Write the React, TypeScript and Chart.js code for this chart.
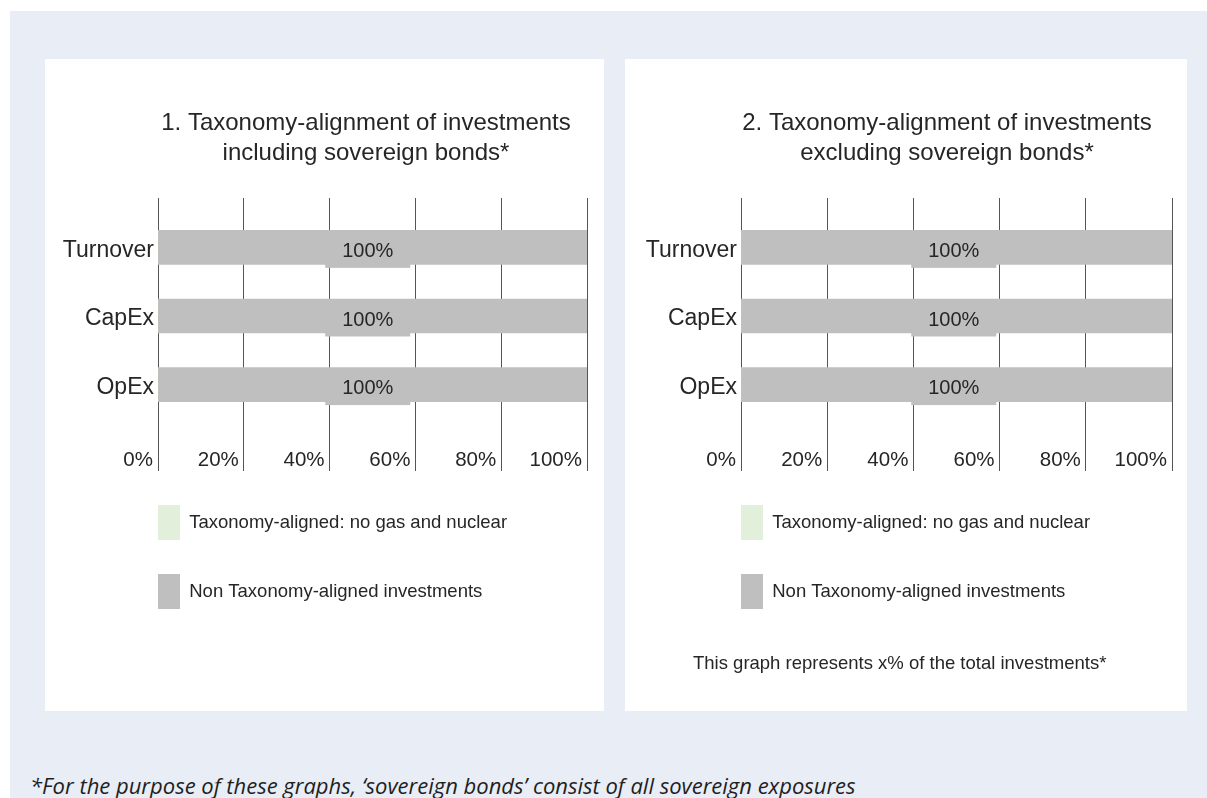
import React, { useEffect, useRef } from 'react';
import { Chart, registerables } from 'chart.js';

Chart.register(...registerables);

// ---------- data ----------
const categories = ['Turnover', 'CapEx', 'OpEx'];
const alignedIncl = [0, 0, 0];
const nonAlignedIncl = [100, 100, 100];
const alignedExcl = [0, 0, 0];
const nonAlignedExcl = [100, 100, 100];
const xTickValues = [0, 20, 40, 60, 80, 100];
const legendLabels = ['Taxonomy-aligned: no gas and nuclear', 'Non Taxonomy-aligned investments'];
const title1 = ['1. Taxonomy-alignment of investments', 'including sovereign bonds*'];
const title2 = ['2. Taxonomy-alignment of investments', 'excluding sovereign bonds*'];
const noteText = 'This graph represents x% of the total investments*';
const footnote = '*For the purpose of these graphs, \u2018sovereign bonds\u2019 consist of all sovereign exposures';

// ---------- styles ----------
const FONT = "'Liberation Sans', Arial, Helvetica, sans-serif";
const TEXT = '#262626';
const GREEN = '#E2EFDA';
const GREY = '#BFBFBF';
const GRID = '#555555';

type PanelProps = {
  width: number;
  height: number;
  title: string[];
  aligned: number[];
  nonAligned: number[];
  padLeft: number;
  padRight: number;
  yWidth: number;
  xPadRight: number;
  labelShift: number;
};

const barLabelPlugin = {
  id: 'barValueLabels',
  afterLayout(chart: any) {
    // let the category labels extend to the left of the narrow y-axis box
    if (chart.scales.y) chart.scales.y.left = 0;
  },
  afterDatasetsDraw(chart: any, _args: any, opts: any) {
    const ctx = chart.ctx;
    const meta = chart.getDatasetMeta(1);
    const ds = chart.data.datasets[1];
    ctx.save();
    meta.data.forEach((bar: any, i: number) => {
      const p = bar.getProps(['x', 'y', 'base', 'height'], true);
      const v = (ds.data[i] as any).x;
      const cx = (p.x + p.base) / 2 + (opts.shift || 0);
      const half = p.height / 2;
      ctx.fillStyle = GREY;
      ctx.fillRect(cx - 42.5, p.y - half + 4, 85, p.height - 0.5);
      ctx.fillStyle = TEXT;
      ctx.font = `20px ${FONT}`;
      ctx.textAlign = 'center';
      ctx.textBaseline = 'middle';
      ctx.fillText(`${v}%`, cx, p.y + 4.3);
    });
    ctx.restore();
  },
};

function Panel(props: PanelProps) {
  const ref = useRef<HTMLCanvasElement | null>(null);
  useEffect(() => {
    if (!ref.current) return;
    const chart = new Chart(ref.current, {
      type: 'bar',
      data: {
        datasets: [
          {
            label: legendLabels[0],
            data: props.aligned.map((v, i) => ({ x: v, y: i })) as any,
            backgroundColor: GREEN,
            borderWidth: 0,
            barThickness: 34,
          },
          {
            label: legendLabels[1],
            data: props.nonAligned.map((v, i) => ({ x: v, y: i })) as any,
            backgroundColor: GREY,
            borderWidth: 0,
            barThickness: 34,
          },
        ],
      },
      options: {
        indexAxis: 'y',
        animation: false,
        responsive: false,
        devicePixelRatio: 1,
        events: [],
        layout: {
          padding: { top: 0, left: props.padLeft, right: props.padRight, bottom: 92 },
        },
        scales: {
          x: {
            type: 'linear',
            stacked: true,
            min: 0,
            max: 100,
            bounds: 'data',
            offset: false,
            border: { display: false },
            grid: { color: GRID, lineWidth: 1, drawTicks: false },
            afterBuildTicks: (s: any) => {
              s.ticks = xTickValues.map((v) => ({ value: v }));
            },
            afterFit: (s: any) => {
              s.paddingRight = props.xPadRight;
            },
            ticks: {
              mirror: true,
              align: 'end',
              padding: 0,
              labelOffset: -5,
              autoSkip: false,
              maxRotation: 0,
              color: TEXT,
              font: { family: FONT, size: 20.5, lineHeight: 1 },
              callback: (v: any) => `${v}%`,
            },
          },
          y: {
            type: 'linear',
            stacked: true,
            reverse: true,
            offset: false,
            min: -0.72,
            max: 3.26,
            bounds: 'data',
            border: { display: false },
            grid: { display: false, drawTicks: false, offset: false },
            afterBuildTicks: (s: any) => {
              s.ticks = categories.map((_, i) => ({ value: i }));
            },
            afterFit: (s: any) => {
              s.width = props.yWidth;
            },
            ticks: {
              padding: 4,
              labelOffset: 3,
              autoSkip: false,
              color: TEXT,
              font: { family: FONT, size: 23 },
              callback: (v: any) => categories[v as number] ?? '',
            },
          },
        },
        plugins: {
          title: {
            display: true,
            text: props.title,
            color: TEXT,
            font: { family: FONT, size: 24, weight: 'normal', lineHeight: '30px' as any },
            padding: { top: 49.3, bottom: 29.7 },
          },
          legend: {
            display: true,
            position: 'bottom',
            align: 'start',
            labels: {
              boxWidth: 22,
              boxHeight: 35,
              padding: 34,
              color: TEXT,
              font: { family: FONT, size: 18.5 },
            },
          },
          tooltip: { enabled: false },
          barValueLabels: { shift: props.labelShift },
        } as any,
      },
      plugins: [barLabelPlugin],
    } as any);
    return () => chart.destroy();
  }, []);
  return (
    <canvas
      ref={ref}
      width={props.width}
      height={props.height}
      style={{ display: 'block', width: props.width, height: props.height }}
    />
  );
}

export default function App() {
  return (
    <div
      style={{
        position: 'absolute',
        left: 0,
        top: 0,
        width: 1207,
        height: 798,
        overflow: 'hidden',
        background: '#ffffff',
      }}
    >
      <div
        style={{ position: 'absolute', left: 10, top: 11, width: 1197, height: 787, background: '#E9EDF6' }}
      />
      <div style={{ position: 'absolute', left: 45, top: 59, width: 559, height: 652, background: '#ffffff' }}>
        <Panel
          width={559}
          height={652}
          title={title1}
          aligned={alignedIncl}
          nonAligned={nonAlignedIncl}
          padLeft={79}
          padRight={-4}
          yWidth={34}
          xPadRight={17}
          labelShift={-5}
        />
      </div>
      <div style={{ position: 'absolute', left: 625, top: 59, width: 562, height: 652, background: '#ffffff' }}>
        <Panel
          width={562}
          height={652}
          title={title2}
          aligned={alignedExcl}
          nonAligned={nonAlignedExcl}
          padLeft={82}
          padRight={0}
          yWidth={34}
          xPadRight={15}
          labelShift={-3}
        />
        <div
          style={{
            position: 'absolute',
            left: 68,
            top: 595.3,
            fontFamily: FONT,
            fontSize: 18.5,
            lineHeight: '18.5px',
            color: TEXT,
            whiteSpace: 'nowrap',
          }}
        >
          {noteText}
        </div>
      </div>
      <div
        style={{
          position: 'absolute',
          left: 30,
          top: 773.5,
          fontFamily: "'Open Sans', 'Noto Sans', sans-serif",
          fontStyle: 'italic',
          fontSize: 22,
          lineHeight: '22px',
          color: '#1f1f1f',
          whiteSpace: 'nowrap',
        }}
      >
        {footnote}
      </div>
    </div>
  );
}
